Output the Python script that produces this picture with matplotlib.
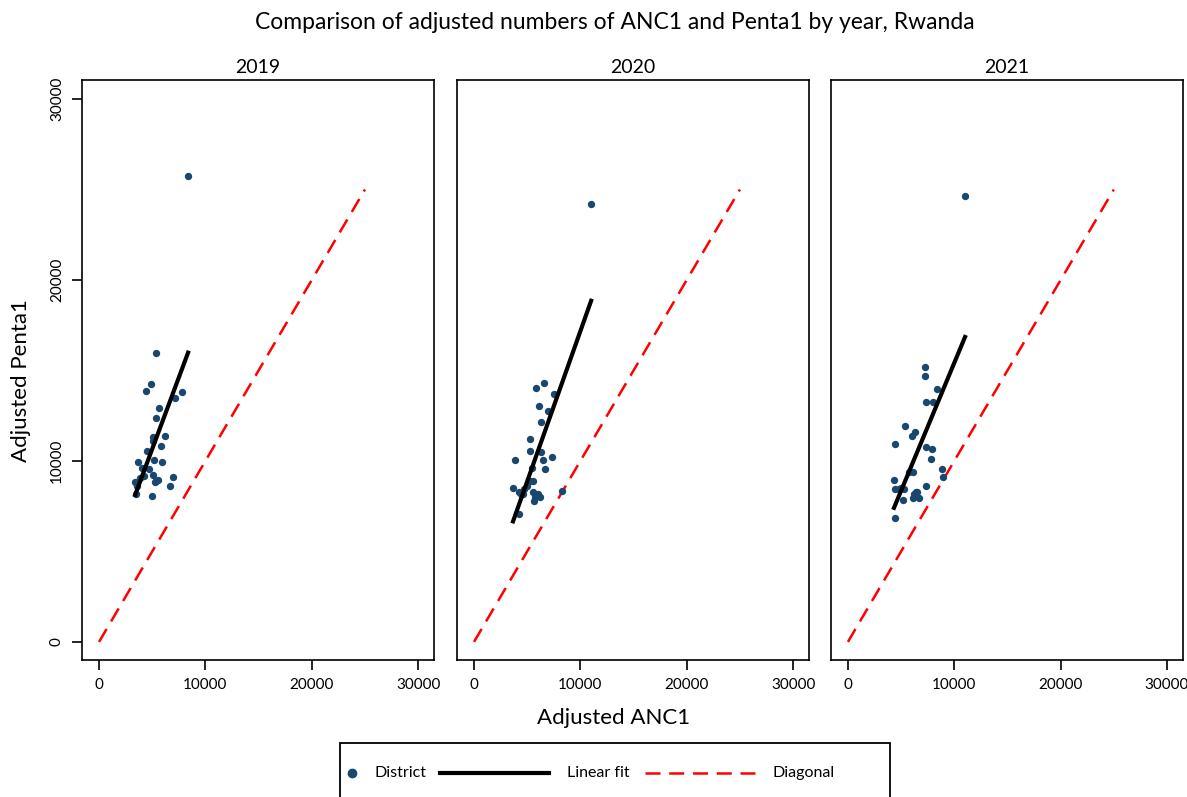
import numpy as np
import matplotlib.pyplot as plt
from matplotlib.lines import Line2D
from matplotlib.patches import Rectangle

plt.rcParams['font.family'] = ['Lato', 'DejaVu Sans']

# datos (ANC1 ajustado, Penta1 ajustado) por distrito
anos = ["2019", "2020", "2021"]

anc_2019 = [8370, 5390, 4920, 4420, 7810, 7120, 5670, 5360, 5110, 6210, 5110, 5860, 4540, 5170, 3670,
            5930, 4050, 4730, 4230, 5110, 3860, 6960, 5580, 5270, 3390, 3550, 6680, 3480, 4960, 5400]
penta_2019 = [25746, 15983, 14270, 13867, 13796, 13497, 12945, 12392, 11309, 11381, 11122, 10812, 10569, 10055, 9961,
              9945, 9597, 9541, 9171, 9210, 9044, 9099, 8950, 8823, 8856, 8619, 8635, 8177, 8050, 8900]

anc_2020 = [11010, 5860, 6590, 7500, 6140, 6960, 6300, 5300, 5270, 6330, 3890, 6520, 7340, 5460, 6680,
            5520, 3670, 4260, 4730, 5520, 5990, 5770, 6180, 5620, 4420, 8280, 4260, 5000, 4600, 5300]
penta_2020 = [24200, 14050, 14326, 13702, 13039, 12779, 12138, 11199, 10569, 10497, 10072, 10055, 10221, 9630, 9575,
              8878, 8492, 8304, 8436, 8304, 8160, 8028, 7994, 7790, 8160, 8359, 7072, 8600, 8200, 8900]

anc_2021 = [11010, 7240, 7240, 8400, 7310, 8020, 5390, 5990, 6330, 4390, 7340, 7900, 7840, 5710, 6090,
            8810, 8940, 4330, 7340, 4450, 4830, 5240, 6400, 6240, 6090, 6710, 5200, 4390, 5000, 6500]
penta_2021 = [24641, 15177, 14696, 13994, 13276, 13276, 11917, 11398, 11586, 10939, 10773, 10646, 10127, 9376, 9376,
              9541, 9099, 8950, 8602, 8436, 8436, 8436, 8271, 8177, 7956, 7956, 7862, 6867, 8500, 8300]

diagonal = [0, 25000]
xticks = [0, 10000, 20000, 30000]
yticks = [0, 10000, 20000, 30000]

datos = [(anc_2019, penta_2019), (anc_2020, penta_2020), (anc_2021, penta_2021)]

azul = "#1a476f"

fig = plt.figure(figsize=(11.87, 7.97), dpi=100)
lefts = [0.0691, 0.385, 0.700]
for i in range(3):
    ax = fig.add_axes([lefts[i], 0.1719, 0.2966, 0.7277])
    x = np.array(datos[i][0])
    y = np.array(datos[i][1])
    ax.plot(diagonal, diagonal, color="red", lw=1.8, dashes=(6, 3.5), zorder=1)
    ax.scatter(x, y, s=28, color=azul, zorder=2, linewidths=0)
    # ajuste lineal
    m, b = np.polyfit(x, y, 1)
    xs = np.array([x.min(), x.max()])
    ax.plot(xs, m * xs + b, color="black", lw=3, zorder=3)
    ax.set_xlim(-1600, 31500)
    ax.set_ylim(-1000, 31050)
    ax.set_xticks(xticks)
    ax.set_xticklabels([str(t) for t in xticks], fontsize=11)
    ax.set_yticks(yticks)
    if i == 0:
        ax.set_yticklabels([str(t) for t in yticks], fontsize=11, rotation=90, va="center")
    else:
        ax.set_yticks([])
    ax.tick_params(length=7, width=1.2, pad=6)
    for s in ax.spines.values():
        s.set_linewidth(1.2)
    ax.set_title(anos[i], fontsize=14, pad=5)

fig.text(0.518, 0.972, "Comparison of adjusted numbers of ANC1 and Penta1 by year, Rwanda",
         ha="center", va="center", fontsize=16.5)
fig.text(0.018, 0.522, "Adjusted Penta1", rotation=90, ha="center", va="center", fontsize=16)
fig.text(0.517, 0.099, "Adjusted ANC1", ha="center", va="center", fontsize=16)

# leyenda dibujada a mano
W, H = 1187.0, 797.0
fig.patches.append(Rectangle((340 / W, -0.05), 550 / W, 0.05 + (797 - 743) / H, transform=fig.transFigure,
                             fill=False, edgecolor="black", lw=1.3))
yl = 1 - 773 / H
fig.lines.append(Line2D([352 / W], [yl], marker="o", ms=6, color=azul, ls="none", transform=fig.transFigure))
fig.text(374 / W, yl, "District", va="center", fontsize=11.5)
fig.lines.append(Line2D([440 / W, 549 / W], [yl, yl], color="black", lw=3, transform=fig.transFigure))
fig.text(567 / W, yl, "Linear fit", va="center", fontsize=11.5)
fig.lines.append(Line2D([645 / W, 756 / W], [yl, yl], color="red", lw=1.8, dashes=(6, 3.5),
                        transform=fig.transFigure))
fig.text(773 / W, yl, "Diagonal", va="center", fontsize=11.5)

plt.savefig("out.png", dpi=100)
